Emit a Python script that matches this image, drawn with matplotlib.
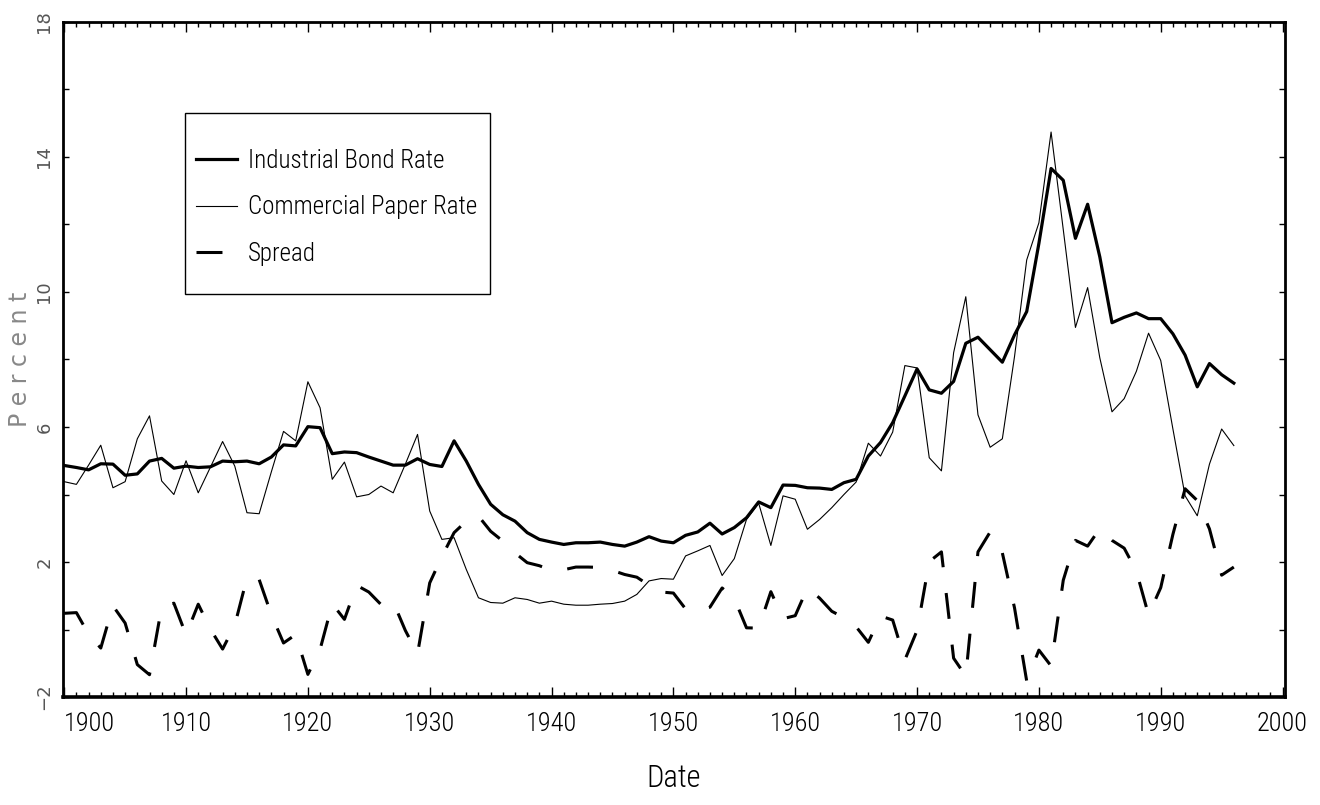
import matplotlib
matplotlib.use("Agg")
import matplotlib.pyplot as plt
import matplotlib.patches as mpatches
from matplotlib import font_manager
import numpy as np

# Annual rates, 1900-1996
years = np.arange(1900, 1997)

bond_rate = [
    4.86, 4.80, 4.73, 4.91, 4.90, 4.57, 4.61, 4.99, 5.07, 4.78,
    4.84, 4.80, 4.82, 4.99, 4.97, 4.99, 4.91, 5.11, 5.47, 5.44,
    6.01, 5.98, 5.21, 5.26, 5.24, 5.11, 4.99, 4.87, 4.87, 5.06,
    4.89, 4.83, 5.59, 4.99, 4.30, 3.71, 3.40, 3.21, 2.87, 2.67,
    2.59, 2.52, 2.57, 2.57, 2.59, 2.52, 2.47, 2.59, 2.75, 2.62,
    2.57, 2.79, 2.89, 3.15, 2.83, 3.02, 3.31, 3.78, 3.61, 4.28,
    4.27, 4.20, 4.19, 4.15, 4.35, 4.45, 5.14, 5.54, 6.13, 6.92,
    7.72, 7.10, 7.00, 7.35, 8.48, 8.66, 8.29, 7.92, 8.73, 9.42,
    11.44, 13.66, 13.31, 11.59, 12.60, 11.04, 9.09, 9.25, 9.38, 9.21,
    9.21, 8.76, 8.13, 7.19, 7.88, 7.55, 7.30,
]

paper_rate = [
    4.38, 4.30, 4.87, 5.46, 4.20, 4.38, 5.65, 6.33, 4.40, 4.00,
    5.00, 4.05, 4.81, 5.57, 4.84, 3.46, 3.43, 4.67, 5.87, 5.59,
    7.34, 6.57, 4.45, 4.96, 3.93, 4.00, 4.25, 4.05, 4.90, 5.78,
    3.51, 2.67, 2.72, 1.78, 0.94, 0.80, 0.78, 0.94, 0.89, 0.78,
    0.84, 0.75, 0.72, 0.72, 0.75, 0.77, 0.84, 1.04, 1.44, 1.51,
    1.49, 2.18, 2.33, 2.49, 1.60, 2.10, 3.26, 3.74, 2.49, 3.96,
    3.86, 2.97, 3.26, 3.61, 4.00, 4.37, 5.52, 5.14, 5.85, 7.82,
    7.75, 5.09, 4.70, 8.20, 9.86, 6.36, 5.40, 5.65, 8.09, 10.95,
    12.05, 14.74, 11.85, 8.95, 10.13, 8.05, 6.45, 6.84, 7.65, 8.78,
    7.97, 5.94, 3.96, 3.37, 4.90, 5.94, 5.45,
]

# spread between the two rates
spread = np.array(bond_rate) - np.array(paper_rate)

x_ticks = list(range(1900, 2001, 10))
y_ticks = [-2, 2, 6, 10, 14, 18]
labels = ["Industrial Bond Rate", "Commercial Paper Rate", "Spread"]

# pick a condensed face if one is around
installed = {f.name for f in font_manager.fontManager.ttflist}
NARROW = [n for n in ["Liberation Sans Narrow", "Roboto Condensed",
                      "DejaVu Sans Condensed", "Open Sans Condensed",
                      "Noto Sans Condensed"] if n in installed] + ["DejaVu Sans"]
narrow_font = dict(family=NARROW, stretch="condensed", weight="light")

fig = plt.figure(figsize=(13.2, 8.05), dpi=100)
ax = fig.add_axes([63 / 1320, 1 - 697 / 805, 1222 / 1320, 675 / 805])

ax.plot(years, bond_rate, color="black", lw=2.3, label=labels[0])
ax.plot(years, paper_rate, color="black", lw=0.8, label=labels[1])
ax.plot(years, spread, color="black", lw=2.2, dashes=(8.5, 8.5), label=labels[2])

ax.set_xlim(1899.9, 2000.2)
ax.set_ylim(-2, 18)

ax.set_xticks(x_ticks)
ax.set_xticks(range(1900, 2001), minor=True)
ax.set_yticks(y_ticks)
ax.set_yticks(range(-2, 19, 2), minor=True)

ax.tick_params(which="both", direction="in", top=True, right=True, width=1.0)
ax.tick_params(axis="x", which="major", length=7.5, pad=11)
ax.tick_params(axis="x", which="minor", length=3.8)
ax.tick_params(axis="y", which="both", length=4)
ax.tick_params(axis="y", which="major", pad=7)

ax.set_xticklabels([str(v) for v in x_ticks], fontsize=19, **narrow_font)
first = ax.get_xticklabels()[0]
first.set_horizontalalignment("left")
ax.set_yticklabels([str(v).replace("-", "\u2212") for v in y_ticks], rotation=90,
                   va="center", fontsize=13, color="#555555", family="DejaVu Sans")

for side, spine in ax.spines.items():
    spine.set_linewidth(2.6 if side == "bottom" else 2.0)

ax.set_xlabel("Date", fontsize=22, labelpad=20, **narrow_font)
ax.set_ylabel("P e r c e n t", fontsize=17, color="#888888", labelpad=2,
              family="DejaVu Sans")

# legend box
ax.add_patch(mpatches.Rectangle((0.0998, 0.597), 0.2495, 0.268,
                                transform=ax.transAxes, fill=False,
                                edgecolor="black", lw=1.0, zorder=5))
ax.legend(loc="upper left", bbox_to_anchor=(0.1085, 0.812), frameon=False,
          prop={"size": 18, **narrow_font},
          handlelength=1.65, handletextpad=0.45, borderpad=0,
          borderaxespad=0, labelspacing=0.9)

fig.savefig("out.png", dpi=100)
